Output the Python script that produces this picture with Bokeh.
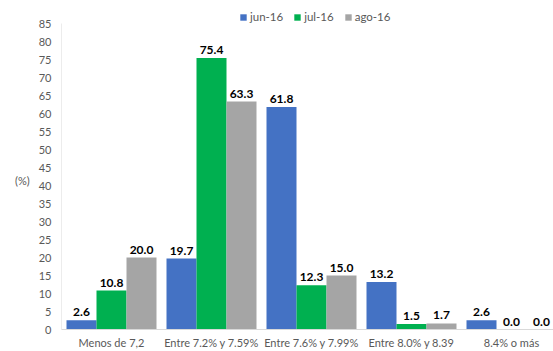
from bokeh.plotting import figure
from bokeh.models import ColumnDataSource, Legend, LegendItem, FixedTicker, Range1d
from bokeh.core.properties import value
from bokeh.embed import file_html
from bokeh.resources import INLINE

categories = ["Menos de 7,2", "Entre 7.2% y 7.59%", "Entre 7.6% y 7.99%", "Entre 8.0% y 8.39", "8.4% o más"]
series = ["jun-16", "jul-16", "ago-16"]
jun16 = [2.6, 19.7, 61.8, 13.2, 2.6]
jul16 = [10.8, 75.4, 12.3, 1.5, 0.0]
ago16 = [20.0, 63.3, 15.0, 1.7, 0.0]
colors = ["#4472C4", "#00B050", "#A5A5A5"]
yticks = list(range(0, 90, 5))
ymax = 85

FONT = "Lato"
X0 = -0.5
p = figure(width=553, height=351, output_backend="svg", toolbar_location=None,
           x_range=Range1d(X0, 4.42), y_range=Range1d(0, ymax * 329 / 306),
           min_border_left=61, min_border_right=0, min_border_top=0, min_border_bottom=22)
p.outline_line_color = None
p.xgrid.visible = False
p.ygrid.visible = False

# value axis line, only up to the top tick
p.segment(x0=[X0], y0=[0], x1=[X0], y1=[ymax], line_color="#D9D9D9", line_width=1)

xs = list(range(len(categories)))
bw = 0.30
offsets = [-0.30, 0.0, 0.30]
items = []
for vals, name, col, off in zip([jun16, jul16, ago16], series, colors, offsets):
    src = ColumnDataSource(dict(x=[x + off for x in xs], top=vals,
                                lab=["%.1f" % v for v in vals]))
    r = p.vbar(x="x", top="top", width=bw, source=src, fill_color=col, line_color=None)
    p.text(x="x", y="top", text="lab", source=src, text_align="center", text_baseline="bottom",
           y_offset=-4, text_font=value(FONT), text_font_style="bold", text_font_size="12px",
           text_color="#000000")
    items.append(LegendItem(label=name, renderers=[r]))

legend = Legend(items=items, orientation="horizontal", location=(178, 306),
                glyph_width=8, glyph_height=8, label_text_font=FONT, label_text_font_size="11.5px",
                label_text_color="#595959", spacing=10, label_standoff=3, padding=0, margin=0,
                border_line_color=None, background_fill_alpha=0)
p.add_layout(legend, "center")

p.yaxis.ticker = FixedTicker(ticks=yticks)
p.xaxis.ticker = FixedTicker(ticks=xs)
p.xaxis.major_label_overrides = {i: c for i, c in enumerate(categories)}
for ax in (p.xaxis, p.yaxis):
    ax.major_tick_line_color = None
    ax.minor_tick_line_color = None
    ax.major_tick_out = 0
    ax.major_tick_in = 0
    ax.minor_tick_out = 0
    ax.major_label_text_font = FONT
    ax.major_label_text_font_size = "11px"
    ax.major_label_text_color = "#595959"
p.xaxis.axis_line_color = "#D9D9D9"
p.yaxis.axis_line_color = None
p.yaxis.major_label_standoff = 10
p.xaxis.major_label_standoff = 6

yax = p.yaxis[0]
yax.axis_label = "\n\n(%)"
yax.axis_label_text_font = FONT
yax.axis_label_text_font_size = "11px"
yax.axis_label_text_font_style = "normal"
yax.axis_label_text_color = "#595959"
yax.axis_label_standoff = 6
if "axis_label_orientation" in yax.properties():
    yax.axis_label_orientation = "horizontal"

open("out.html", "w").write(file_html(p, INLINE))
